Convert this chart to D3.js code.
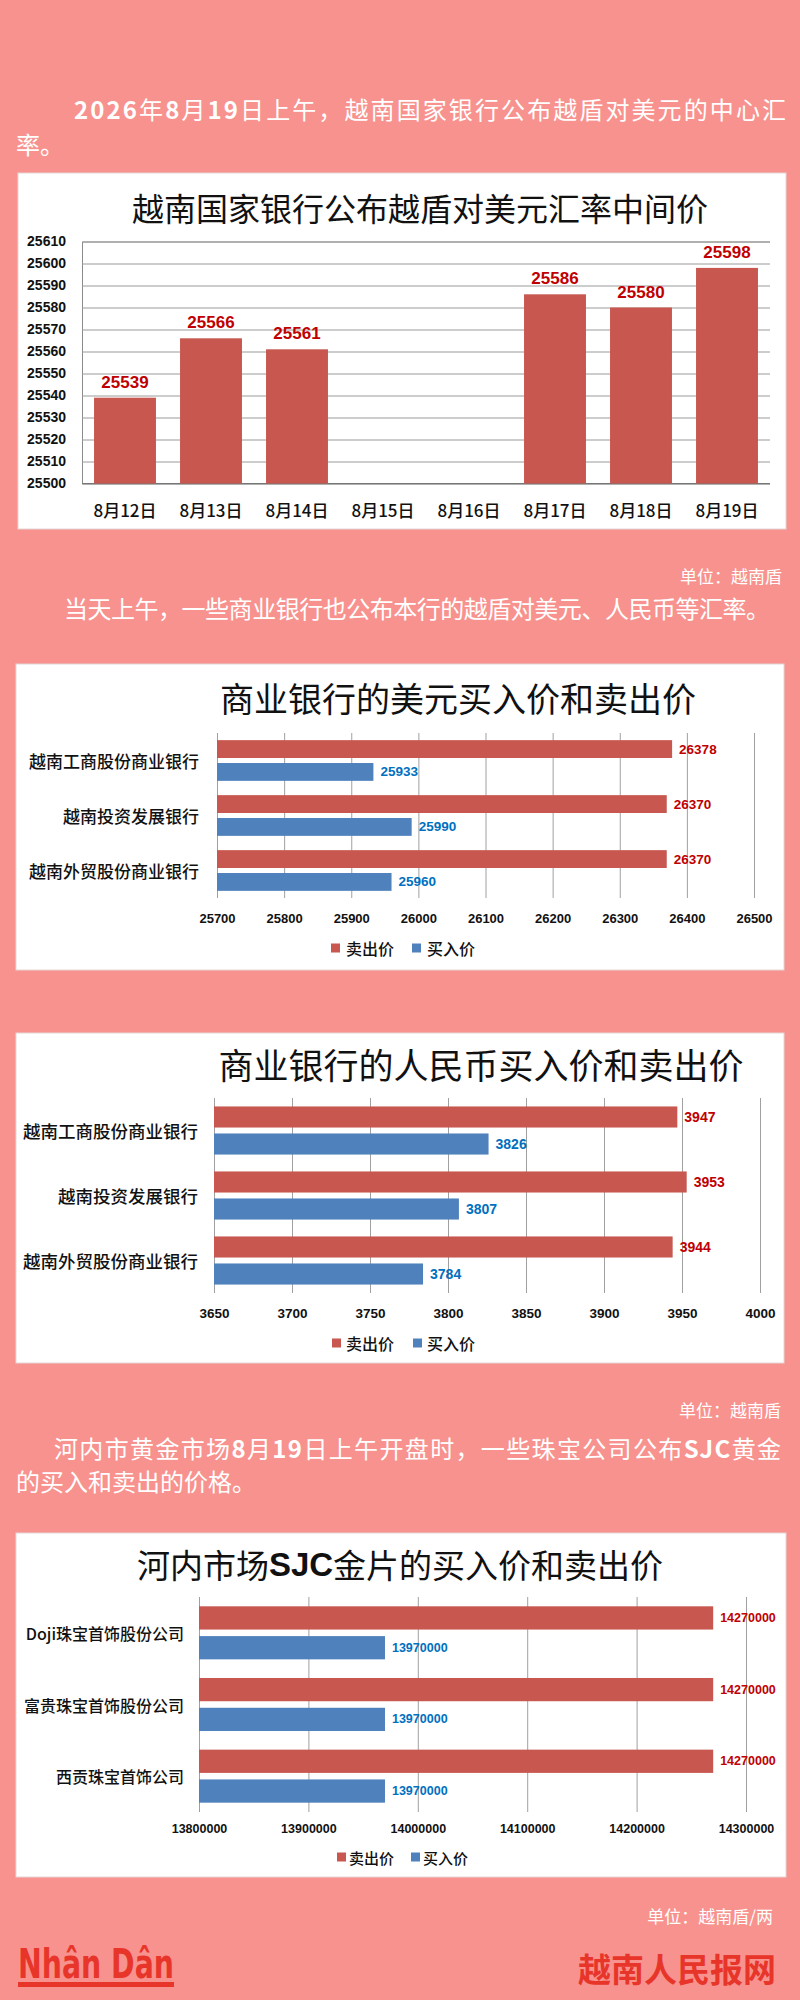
<!DOCTYPE html>
<html><head><meta charset="utf-8">
<script src="https://cdn.jsdelivr.net/npm/d3@7"></script>
<style>body{margin:0;background:#F8928E}svg{display:block}</style>
</head><body><svg id="c" width="800" height="2000"></svg>
<script>
// ---------- data ----------
const dates = ["8月12日","8月13日","8月14日","8月15日","8月16日","8月17日","8月18日","8月19日"];
const midRates = [25539,25566,25561,null,null,25586,25580,25598];
const midTicks = [25500,25510,25520,25530,25540,25550,25560,25570,25580,25590,25600,25610];

const seriesNames = ["卖出价","买入价"];

const banks = ["越南工商股份商业银行","越南投资发展银行","越南外贸股份商业银行"];
const usdSell = [26378,26370,26370];
const usdBuy = [25933,25990,25960];
const usdTicks = [25700,25800,25900,26000,26100,26200,26300,26400,26500];

const cnySell = [3947,3953,3944];
const cnyBuy = [3826,3807,3784];
const cnyTicks = [3650,3700,3750,3800,3850,3900,3950,4000];

const goldShops = ["Doji珠宝首饰股份公司","富贵珠宝首饰股份公司","西贡珠宝首饰公司"];
const goldSell = [14270000,14270000,14270000];
const goldBuy = [13970000,13970000,13970000];
const goldTicks = [13800000,13900000,14000000,14100000,14200000,14300000];

// ---------- styles ----------
const BG = "#F8928E", RED = "#C7574F", BLUE = "#4F81BD", RED_T = "#C00000", BLUE_T = "#0070C0";
const CJK = "'Noto Sans CJK SC','Noto Sans',sans-serif";
const NUM = "'Liberation Sans',Arial,sans-serif";

const svg = d3.select("#c");
svg.append("rect").attr("width",800).attr("height",2000).attr("fill",BG);

// ---------- paragraphs ----------
function para(x, y, parts, len, size) {
  const t = svg.append("text").attr("x", x).attr("y", y)
    .attr("dominant-baseline","central").attr("fill","#fff")
    .attr("font-family", CJK).attr("font-size", size || 24);
  parts.forEach(p => {
    const isB = typeof p !== "string";
    t.append("tspan").text(isB ? p.b : p).attr("font-weight", isB ? 700 : 400);
  });
  if (len) t.attr("textLength", len).attr("lengthAdjust","spacing");
  return t;
}
function unit(xr, y, txt) {
  svg.append("text").attr("x", xr).attr("y", y).attr("text-anchor","end")
    .attr("dominant-baseline","central").attr("fill","#fff")
    .attr("font-family", CJK).attr("font-size", 17).text(txt);
}

para(74, 108, [{b:"2026"},"年",{b:"8"},"月",{b:"19"},"日上午，越南国家银行公布越盾对美元的中心汇"], 712);
para(16, 143, ["率。"]);
unit(782, 575, "单位：越南盾");
para(64, 607, ["当天上午，一些商业银行也公布本行的越盾对美元、人民币等汇率。"], 706);
unit(781, 1409, "单位：越南盾");
para(54, 1447, ["河内市黄金市场",{b:"8"},"月",{b:"19"},"日上午开盘时，一些珠宝公司公布",{b:"SJC"},"黄金"], 727);
para(16, 1480, ["的买入和卖出的价格。"]);
unit(773, 1915, "单位：越南盾/两");

// ---------- chart 1: vertical bars ----------
(function(){
  const g = svg.append("g");
  g.append("rect").attr("x",18).attr("y",173).attr("width",768).attr("height",356)
    .attr("fill","#fff").attr("stroke","#e2d6d6");
  g.append("text").attr("x",420).attr("y",207).attr("text-anchor","middle")
    .attr("dominant-baseline","central").attr("font-family",CJK).attr("font-size",32)
    .attr("fill","#111").text("越南国家银行公布越盾对美元汇率中间价");

  const x = d3.scaleBand().domain(dates).range([82,770]).paddingInner(0.28).paddingOuter(0.14);
  const y = d3.scaleLinear().domain([25500,25610]).range([483.5,241.5]);

  const yAxis = d3.axisLeft(y).tickValues(midTicks).tickSize(-(770-82)).tickFormat(d3.format("d"));
  const ya = g.append("g").attr("transform","translate(82,0)").call(yAxis);
  ya.select(".domain").attr("stroke","#8a8a8a");
  ya.selectAll(".tick line").attr("stroke","#9a9a9a");
  ya.selectAll(".tick text").attr("x",-16).attr("font-family",NUM).attr("font-size",14)
    .attr("font-weight",700).attr("fill","#111");
  g.append("line").attr("x1",82).attr("x2",770).attr("y1",y(25500)).attr("y2",y(25500)).attr("stroke","#777");

  const xAxis = d3.axisBottom(x).tickSize(0).tickPadding(0);
  const xa = g.append("g").attr("transform",`translate(0,${509})`).call(xAxis);
  xa.select(".domain").remove();
  xa.selectAll(".tick text").attr("dy",0).attr("dominant-baseline","central")
    .attr("font-family",CJK).attr("font-size",17).attr("font-weight",500).attr("fill","#111");

  const data = dates.map((d,i)=>({d, v: midRates[i]})).filter(o => o.v !== null);
  g.selectAll(".bar").data(data).join("rect")
    .attr("x", o => x(o.d)).attr("width", x.bandwidth())
    .attr("y", o => y(o.v)).attr("height", o => y(25500) - y(o.v)).attr("fill", RED);
  g.selectAll(".val").data(data).join("text")
    .attr("x", o => x(o.d) + x.bandwidth()/2).attr("y", o => y(o.v) - 10)
    .attr("text-anchor","middle").attr("font-family",NUM).attr("font-size",17).attr("font-weight",700)
    .attr("fill", RED_T).text(o => o.v);
})();

// ---------- horizontal grouped bar charts ----------
function hchart(c) {
  const g = svg.append("g");
  g.append("rect").attr("x",c.box[0]).attr("y",c.box[1]).attr("width",c.box[2]-c.box[0])
    .attr("height",c.box[3]-c.box[1]).attr("fill","#fff").attr("stroke","#e2d6d6");
  const tt = g.append("text").attr("x",c.titleX).attr("y",c.titleY).attr("text-anchor","middle")
    .attr("dominant-baseline","central").attr("font-family",CJK).attr("font-size",c.titleSize)
    .attr("fill","#111");
  c.title.forEach(p => {
    const isB = typeof p !== "string";
    tt.append("tspan").text(isB ? p.b : p).attr("font-weight", isB ? 700 : 400)
      .attr("font-family", isB ? NUM : CJK);
  });

  const x = d3.scaleLinear().domain(c.domain).range(c.xr);
  const y = d3.scaleBand().domain(c.cats).range(c.yr).paddingInner(0.26).paddingOuter(0.13);
  const yi = d3.scaleBand().domain(seriesNames).range([0, y.bandwidth()]).paddingInner(0.22);

  const xAxis = d3.axisBottom(x).tickValues(c.ticks).tickSize(-(c.yr[1]-c.yr[0])).tickPadding(0).tickFormat(d3.format("d"));
  const xa = g.append("g").attr("transform",`translate(0,${c.yr[1]})`).call(xAxis);
  xa.select(".domain").remove();
  xa.selectAll(".tick line").attr("stroke","#a0a0a0");
  xa.selectAll(".tick text").attr("y", c.tickY - c.yr[1]).attr("dy",0).attr("dominant-baseline","central")
    .attr("font-family",NUM).attr("font-size",c.tickSize).attr("font-weight",700).attr("fill","#111");

  const yAxis = d3.axisLeft(y).tickSize(0).tickPadding(0);
  const ya = g.append("g").attr("transform",`translate(${c.labelX},0)`).call(yAxis);
  ya.select(".domain").remove();
  ya.selectAll(".tick text").attr("dy",0).attr("dominant-baseline","central")
    .attr("font-family",CJK).attr("font-size",c.catSize).attr("font-weight",500).attr("fill","#111");

  const rows = [];
  c.cats.forEach((cat,i) => {
    rows.push({cat, s: seriesNames[0], v: c.sell[i], col: RED, tc: RED_T});
    rows.push({cat, s: seriesNames[1], v: c.buy[i], col: BLUE, tc: BLUE_T});
  });
  g.selectAll(".hb").data(rows).join("rect")
    .attr("x", x(c.domain[0])).attr("y", r => y(r.cat) + yi(r.s))
    .attr("width", r => x(r.v) - x(c.domain[0])).attr("height", yi.bandwidth()).attr("fill", r => r.col);
  g.selectAll(".hv").data(rows).join("text")
    .attr("x", r => x(r.v) + 7).attr("y", r => y(r.cat) + yi(r.s) + yi.bandwidth()/2)
    .attr("dominant-baseline","central").attr("font-family",NUM).attr("font-size",c.valSize)
    .attr("font-weight",700).attr("fill", r => r.tc).text(r => r.v);

  // legend
  const cols = [RED, BLUE];
  seriesNames.forEach((nm,i) => {
    const lx = c.legend.xs[i];
    g.append("rect").attr("x",lx).attr("y",c.legend.y - 4.5).attr("width",9).attr("height",9).attr("fill",cols[i]);
    g.append("text").attr("x",lx + c.legend.gap).attr("y",c.legend.y).attr("dominant-baseline","central")
      .attr("font-family",CJK).attr("font-size",c.legend.size).attr("font-weight",500).attr("fill","#111").text(nm);
  });
}

hchart({
  box:[16,664,784,970], title:["商业银行的美元买入价和卖出价"], titleX:458, titleY:697, titleSize:34,
  cats:banks, sell:usdSell, buy:usdBuy, ticks:usdTicks, domain:[25700,26500],
  xr:[217,754], yr:[733,898], tickY:918, tickSize:13, valSize:13.5, labelX:199, catSize:17,
  legend:{y:948, xs:[331,412], gap:15, size:16}
});
hchart({
  box:[16,1033,784,1363], title:["商业银行的人民币买入价和卖出价"], titleX:481, titleY:1063, titleSize:35,
  cats:banks, sell:cnySell, buy:cnyBuy, ticks:cnyTicks, domain:[3650,4000],
  xr:[214,760], yr:[1098,1293], tickY:1313, tickSize:13.5, valSize:14, labelX:198, catSize:17.5,
  legend:{y:1343, xs:[332,413], gap:14, size:16}
});
hchart({
  box:[16,1533,786,1877], title:["河内市场",{b:"SJC"},"金片的买入价和卖出价"], titleX:400, titleY:1564, titleSize:33,
  cats:goldShops, sell:goldSell, buy:goldBuy, ticks:goldTicks, domain:[13800000,14300000],
  xr:[199,746], yr:[1597,1812], tickY:1829, tickSize:12.5, valSize:12.5, labelX:184, catSize:16,
  legend:{y:1857, xs:[337,411], gap:12, size:15}
});

// ---------- footer ----------
const LOGO = "#E8352A";
svg.append("text").attr("x",18).attr("y",1978)
  .attr("font-family","'Liberation Sans Narrow','DejaVu Sans Condensed','Liberation Sans',sans-serif")
  .attr("font-weight",700).attr("font-size",41).attr("fill",LOGO)
  .attr("textLength",156).attr("lengthAdjust","spacingAndGlyphs").text("Nhân Dân");
svg.append("rect").attr("x",18).attr("y",1982).attr("width",156).attr("height",5).attr("fill",LOGO);
svg.append("text").attr("x",776).attr("y",1968).attr("text-anchor","end").attr("dominant-baseline","central")
  .attr("font-family",CJK).attr("font-weight",700).attr("font-size",33).attr("fill",LOGO).text("越南人民报网");
</script>
</body></html>
